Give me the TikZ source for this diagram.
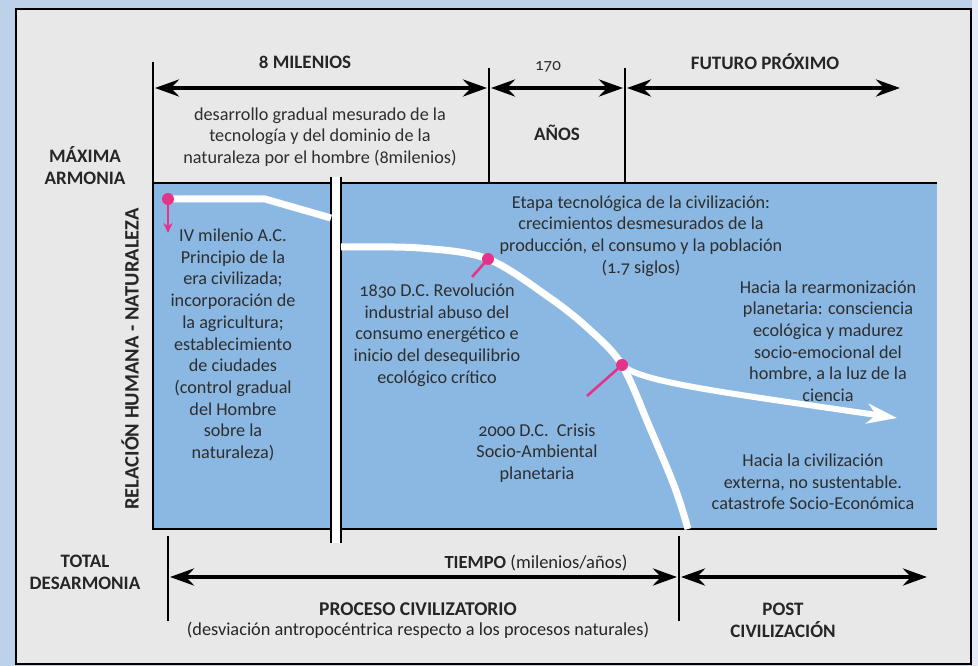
\documentclass[tikz,border=0pt]{standalone}
\usepackage{fontspec}
\setmainfont{Carlito}[Numbers=OldStyle]
\usetikzlibrary{arrows.meta}
\definecolor{bgblue}{HTML}{BDD1EB}
\definecolor{panelc}{HTML}{E8E8E8}
\definecolor{boxblue}{HTML}{8AB8E2}
\definecolor{pinkc}{HTML}{E5338A}
\definecolor{txtc}{HTML}{2E2E2E}
\begin{document}
\begin{tikzpicture}[x=1pt,y=-1pt,
  lbl/.style={font=\fontsize{18.2}{21.7}\selectfont, text=txtc, align=center, inner sep=0pt},
  hdr/.style={font=\fontsize{19}{22}\selectfont\bfseries, text=black!85, align=center, inner sep=0pt},
  blkarrow/.style={line width=4pt, {Stealth[length=24pt,width=17pt,inset=8pt]}-{Stealth[length=24pt,width=17pt,inset=8pt]}},
  vline/.style={line width=2.5pt},
  wcurve/.style={white, line width=7pt},
  pinline/.style={pinkc, line width=2.6pt},
  pindot/.style={circle, fill=pinkc, minimum size=12pt, inner sep=0pt},
]
\useasboundingbox (0,0) rectangle (978,666);
\fill[bgblue] (0,0) rectangle (978,666);
\fill[white!60!bgblue] (972,0) rectangle (978,666);
\draw[fill=panelc, line width=2pt] (16,9) rectangle (971,664);

% blue areas
\fill[boxblue] (153,183) rectangle (331,529);
\fill[boxblue] (341,183) rectangle (937,529);
\fill[white] (331,177) rectangle (341,543);
\draw[line width=2.5pt] (153,183) rectangle (331,529);
\draw[line width=2.5pt] (937,183) -- (341,183) -- (341,529) -- (937,529);
\draw[line width=2.5pt] (331,177) -- (331,543);
\draw[line width=2.5pt] (341,177) -- (341,543);

% top vertical lines
\coordinate (v1t) at (153,62);
\coordinate (v1b) at (153,183);
\coordinate (v2t) at (489,68);
\coordinate (v2b) at (489,183);
\coordinate (v3t) at (625,68);
\coordinate (v3b) at (625,183);
\draw[vline] (v1t) -- (v1b);
\draw[vline] (v2t) -- (v2b);
\draw[vline] (v3t) -- (v3b);

% top arrows
\coordinate (a1) at (153,88);
\coordinate (a2) at (489,88);
\coordinate (a3) at (625,88);
\coordinate (a4) at (900,88);
\draw[blkarrow, shorten <=2pt, shorten >=2pt] (a1) -- (a2);
\draw[blkarrow, shorten <=2pt, shorten >=2pt] (a2) -- (a3);
\draw[blkarrow, shorten <=2pt] (a3) -- (a4);

% bottom vertical lines and arrows
\coordinate (w1t) at (168,536);
\coordinate (w1b) at (168,621);
\coordinate (w2t) at (679,536);
\coordinate (w2b) at (679,621);
\draw[vline] (w1t) -- (w1b);
\draw[vline] (w2t) -- (w2b);
\coordinate (b1) at (168,577);
\coordinate (b2) at (679,577);
\coordinate (b3) at (927,577);
\draw[blkarrow, shorten <=2pt, shorten >=2pt] (b1) -- (b2);
\draw[blkarrow, shorten <=2pt] (b2) -- (b3);

% headers
\node[hdr] (mil) at (305,62) {8 MILENIOS};
\node[lbl, font=\fontsize{17}{20}\selectfont] (n170) at (548,67) {170};
\node[hdr] (fut) at (765,62) {FUTURO PRÓXIMO};
\node[lbl] (desc) at (320,137) {desarrollo gradual mesurado de la\\tecnología y del dominio de la\\naturaleza por el hombre (8milenios)};
\node[hdr] (anos) at (557,133) {AÑOS};
\node[hdr] (maxa) at (85,166) {MÁXIMA\\ARMONIA};
\node[hdr, font=\fontsize{20.5}{22}\selectfont\bfseries, rotate=90] (rel) at (130,359) {RELACIÓN HUMANA - NATURALEZA};
\node[hdr] (totd) at (85,572) {TOTAL\\DESARMONIA};
\node[lbl, text=black!85, font=\fontsize{18.5}{21.7}\selectfont] (tiempo) at (536,563) {\textbf{TIEMPO} (milenios/años)};
\node[hdr, font=\fontsize{19.5}{22}\selectfont\bfseries] (proc) at (418,609) {PROCESO CIVILIZATORIO};
\node[lbl, text=black!85, font=\fontsize{18.3}{21.7}\selectfont] (desv) at (418,630) {(desviación antropocéntrica respecto a los procesos naturales)};
\node[hdr] (post) at (783,620) {POST\\CIVILIZACIÓN};

% white curves
\draw[wcurve] (168,199) -- (265,199) -- (331,218);
\coordinate (p2) at (488,259);
\coordinate (p3) at (622,365);
\draw[wcurve] plot[smooth, tension=0.55] coordinates {(341,247) (420,248) (488,259) (550,298) (590,330) (622,365) (650,428) (675,488) (688,529)};
\coordinate (tip) at (897,418);
\draw[wcurve, line width=6pt, -{Stealth[length=30pt,width=20pt,inset=9pt]}] (p3) .. controls (640,382) and (720,392) .. (tip);

% pink markers
\coordinate (p1) at (168,199);
\coordinate (p1a) at (168,233);
\draw[pinline, -{Stealth[length=10pt,width=9pt]}] (p1) -- (p1a);
\coordinate (p2a) at (472,277);
\draw[pinline] (p2) -- (p2a);
\coordinate (p3a) at (587,396);
\draw[pinline] (p3) -- (p3a);
\node[pindot] (d1) at (p1) {};
\node[pindot] (d2) at (p2) {};
\node[pindot] (d3) at (p3) {};

% texts in blue
\node[lbl] (iv) at (233,345) {IV milenio A.C.\\Principio de la\\era civilizada;\\incorporación de\\la agricultura;\\establecimiento\\de ciudades\\(control gradual\\del Hombre\\sobre la\\naturaleza)};
\node[lbl] (t1830) at (437,335) {1830 D.C. Revolución\\industrial abuso del\\consumo energético e\\inicio del desequilibrio\\ecológico crítico};
\node[lbl] (t2000) at (537,453) {2000 D.C.\ \ Crisis\\Socio-Ambiental\\planetaria};
\node[lbl] (etapa) at (641,236) {Etapa tecnológica de la civilización:\\crecimientos desmesurados de la\\producción, el consumo y la población\\(1.7 siglos)};
\node[lbl] (rearm) at (828,341) {Hacia la rearmonización\\planetaria: consciencia\\ecológica y madurez\\socio-emocional del\\hombre, a la luz de la\\ciencia};
\node[lbl] (civ) at (813,482) {Hacia la civilización\\externa, no sustentable.\\catastrofe Socio-Económica};
\end{tikzpicture}
\end{document}
